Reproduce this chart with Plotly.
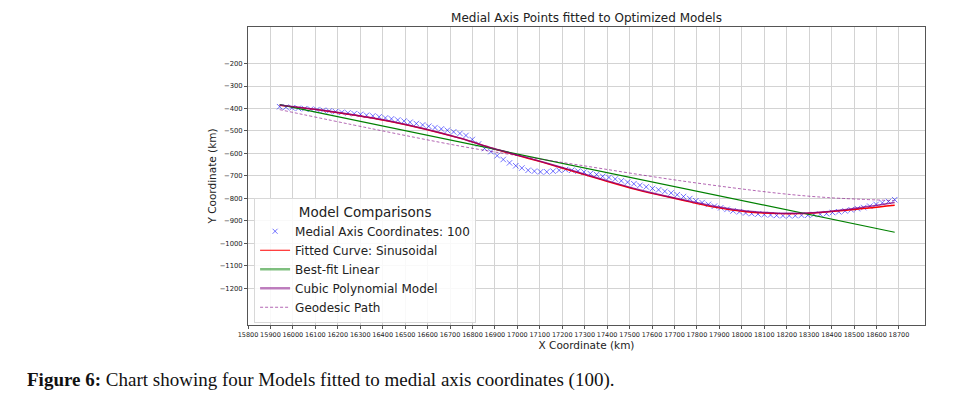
import plotly.graph_objects as go

# ---- Data ----
medial_x = [15941, 15969, 15996, 16024, 16052, 16079, 16107, 16135, 16162, 16190,
            16218, 16245, 16273, 16301, 16328, 16356, 16384, 16412, 16439, 16467,
            16495, 16522, 16550, 16578, 16605, 16633, 16661, 16688, 16716, 16744,
            16771, 16799, 16827, 16854, 16882, 16910, 16937, 16965, 16993, 17020,
            17048, 17076, 17103, 17131, 17159, 17186, 17214, 17242, 17270, 17297,
            17325, 17353, 17380, 17408, 17436, 17463, 17491, 17519, 17546, 17574,
            17602, 17629, 17657, 17685, 17712, 17740, 17768, 17795, 17823, 17851,
            17878, 17906, 17934, 17961, 17989, 18017, 18044, 18072, 18100, 18128,
            18155, 18183, 18211, 18238, 18266, 18294, 18321, 18349, 18377, 18404,
            18432, 18460, 18487, 18515, 18543, 18570, 18598, 18626, 18653, 18681]
medial_y = [-392, -394, -397, -399, -401, -403, -405, -408, -411, -414,
            -417, -420, -423, -426, -430, -433, -437, -442, -446, -451,
            -456, -461, -467, -473, -479, -485, -491, -497, -504, -511,
            -520, -538, -558, -578, -592, -610, -627, -642, -655, -665,
            -675, -679, -682, -682, -679, -675, -672, -675, -679, -683,
            -690, -694, -702, -707, -714, -722, -728, -735, -742, -749,
            -756, -762, -769, -776, -784, -792, -801, -811, -819, -827,
            -835, -842, -849, -856, -860, -865, -868, -870, -872, -874,
            -876, -877, -877, -877, -875, -875, -872, -871, -868, -863,
            -860, -856, -851, -846, -841, -835, -827, -820, -814, -806]

sin_x = [15941, 16149, 16446, 16743, 16891, 17114, 17233, 17381, 17530, 17722,
         17871, 18020, 18168, 18258, 18317, 18466, 18681]
sin_y = [-386, -411, -460, -532, -578, -640, -675, -719, -761, -805,
         -838, -860, -868, -868, -865, -853, -831]

cubic_x = [15941, 16149, 16446, 16743, 16891, 17114, 17233, 17381, 17530, 17722,
           17871, 18020, 18168, 18258, 18317, 18466, 18681]
cubic_y = [-384, -410, -459, -531, -577, -638, -672, -716, -758, -803,
           -834, -856, -866, -866, -864, -850, -819]

linear_x = [15941, 18681]
linear_y = [-383, -951]

geo_x = [15941, 16342, 16743, 16965, 17277, 17722, 18168, 18390, 18681]
geo_y = [-405, -488, -567, -604, -652, -721, -778, -797, -810]

x_ticks = list(range(15800, 18701, 100))
y_ticks = [-200, -300, -400, -500, -600, -700, -800, -900, -1000, -1100, -1200]

FONT = "DejaVu Sans"

fig = go.Figure()

# plotted marks (legend handled by dummy traces below)
fig.add_trace(go.Scatter(x=medial_x, y=medial_y, mode="markers", showlegend=False,
                         marker=dict(symbol="x-thin", size=5.5, line=dict(width=1, color="rgba(0,0,255,0.55)"))))
fig.add_trace(go.Scatter(x=sin_x, y=sin_y, mode="lines", showlegend=False,
                         line=dict(color="red", width=1.4, shape="spline")))
fig.add_trace(go.Scatter(x=linear_x, y=linear_y, mode="lines", showlegend=False,
                         line=dict(color="green", width=1.2)))
fig.add_trace(go.Scatter(x=cubic_x, y=cubic_y, mode="lines", showlegend=False,
                         line=dict(color="rgba(128,0,128,0.75)", width=1.5, shape="spline")))
fig.add_trace(go.Scatter(x=geo_x, y=geo_y, mode="lines", showlegend=False,
                         line=dict(color="rgba(128,0,128,0.6)", width=1, dash="3px,2px", shape="spline")))

# legend entries
fig.add_trace(go.Scatter(x=[None], y=[None], mode="markers", name="Medial Axis Coordinates: 100",
                         marker=dict(symbol="x-thin", size=5, line=dict(width=1, color="rgba(0,0,255,0.55)"))))
fig.add_trace(go.Scatter(x=[None], y=[None], mode="lines", name="Fitted Curve: Sinusoidal",
                         line=dict(color="red", width=1.2)))
fig.add_trace(go.Scatter(x=[None], y=[None], mode="lines", name="Best-fit Linear",
                         line=dict(color="rgba(0,128,0,0.5)", width=2.5)))
fig.add_trace(go.Scatter(x=[None], y=[None], mode="lines", name="Cubic Polynomial Model",
                         line=dict(color="rgba(128,0,128,0.5)", width=2.5)))
fig.add_trace(go.Scatter(x=[None], y=[None], mode="lines", name="Geodesic Path",
                         line=dict(color="rgba(128,0,128,0.6)", width=1, dash="3px,2px")))

fig.update_layout(
    width=974, height=395,
    margin=dict(l=248, r=49, t=27, b=70),
    paper_bgcolor="white", plot_bgcolor="white",
    font=dict(family=FONT, color="#222"),
    title=dict(text="Medial Axis Points fitted to Optimized Models", x=(248 + 677 / 2) / 974,
               xanchor="center", y=1 - 18 / 395, yanchor="middle",
               font=dict(size=12, family=FONT, color="#222")),
    legend=dict(
        x=0.009, y=0.006, xanchor="left", yanchor="bottom",
        bgcolor="rgba(255,255,255,0.85)", bordercolor="#d8d8d8", borderwidth=1,
        font=dict(size=12, family=FONT, color="#222"),
        title=dict(text="Model Comparisons", side="top center", font=dict(size=13.5, family=FONT, color="#222")),
        tracegroupgap=0, itemwidth=30,
    ),
    xaxis=dict(
        range=[15800, 18816], tickvals=x_ticks, ticktext=[str(v) for v in x_ticks],
        tickfont=dict(size=6.5, family=FONT, color="#222"), tickangle=0,
        showgrid=True, gridcolor="#d3d3d3", gridwidth=1,
        showline=True, linecolor="#555", linewidth=1, mirror=True,
        ticks="outside", ticklen=3, tickcolor="#555", zeroline=False,
        title=dict(text="X Coordinate (km)", font=dict(size=10.5, family=FONT, color="#222"), standoff=2),
    ),
    yaxis=dict(
        range=[-1364, -37], tickvals=y_ticks,
        tickfont=dict(size=6.8, family=FONT, color="#222"),
        showgrid=True, gridcolor="#d3d3d3", gridwidth=1,
        showline=True, linecolor="#555", linewidth=1, mirror=True,
        ticks="outside", ticklen=3, tickcolor="#555", zeroline=False,
        title=dict(text="Y Coordinate (km)", font=dict(size=10.5, family=FONT, color="#222"), standoff=0),
    ),
    annotations=[dict(
        text="<b>Figure 6:</b> Chart showing four Models fitted to medial axis coordinates (100).",
        xref="paper", yref="paper", x=(25 - 248) / 677, y=(325 - 380) / 298,
        xanchor="left", yanchor="middle", showarrow=False,
        font=dict(family="Liberation Serif", size=19, color="#111"),
    )],
)

fig.write_html("out.html", config={"displayModeBar": False},
               post_script="document.body.style.margin='0px';document.body.style.overflow='hidden';")
